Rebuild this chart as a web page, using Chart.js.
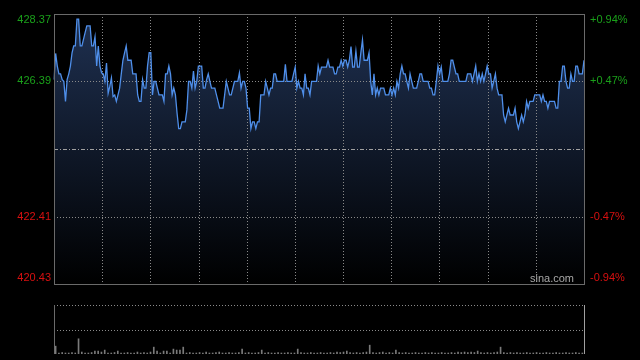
<!DOCTYPE html>
<html lang="zh-CN">
<head>
    <meta charset="UTF-8">
    <title>分时图</title>
    <script src="https://cdn.jsdelivr.net/npm/chart.js"></script>
    <style>
        body { margin: 0; background: #000; }
        .wrap { position: relative; width: 640px; height: 360px; background: #000; overflow: hidden; }
        #priceChart { position: absolute; left: 0; top: 0; }
        #volChart { position: absolute; left: 0; top: 290px; }
    </style>
</head>
<body>
<div class="wrap">
    <canvas id="priceChart" width="640" height="290"></canvas>
    <canvas id="volChart" width="640" height="70"></canvas>
</div>
<script>
    // price range and previous close
    const prevClose = 424.40;
    const yMin = 420.43;
    const yMax = 428.37;

    // axis labels
    const leftTicks = [428.37, 426.39, 422.41, 420.43];
    const rightTicks = ['+0.94%', '+0.47%', '-0.47%', '-0.94%'];

    // intraday prices
    const prices = [
        426.44, 427.21, 426.84, 426.61, 426.61, 426.44, 426.39, 425.80, 426.44, 426.61,
        426.84, 427.23, 427.43, 427.43, 428.22, 428.22, 427.43, 427.43, 427.63, 427.83,
        428.02, 428.02, 428.02, 427.43, 427.43, 427.70, 426.84, 427.43, 426.84, 426.64,
        426.61, 426.39, 426.93, 426.04, 426.24, 426.49, 425.94, 425.99, 425.80, 425.99,
        426.19, 426.61, 427.01, 427.23, 427.43, 427.01, 427.01, 427.01, 426.61, 426.61,
        426.61, 425.99, 425.80, 425.80, 426.44, 426.19, 426.19, 426.84, 427.23, 427.23,
        425.99, 426.39, 426.39, 426.19, 425.99, 425.99,
        425.99, 425.80, 426.61, 426.61, 426.84, 426.61, 425.99, 426.19, 425.99, 425.45,
        425.00, 425.00, 425.20, 425.20, 425.20, 425.55, 426.39, 426.39, 426.19, 426.69,
        426.19, 426.39, 426.84, 426.84, 426.84, 426.19, 426.19, 426.44, 426.61, 426.39,
        426.19, 426.19, 426.19, 425.99, 425.80, 425.60, 425.60, 425.60, 425.99, 426.39,
        426.19, 425.99, 425.99, 426.19, 426.39, 426.39, 426.39, 426.64, 426.19, 426.39,
        426.39, 426.19, 425.60, 425.60, 425.00, 425.20, 425.20, 425.00, 425.20, 425.20,
        425.99, 425.99, 425.99, 426.39,
        426.19, 425.99, 426.19, 426.19, 426.61, 426.61, 426.39, 426.39, 426.39, 426.39,
        426.39, 426.89, 426.39, 426.39, 426.39, 426.39, 426.61, 426.81, 426.19, 426.39,
        426.19, 426.19, 425.99, 426.61, 426.19, 426.19, 425.99, 426.39, 426.39, 426.39,
        426.39, 426.84, 426.61, 426.81, 426.81, 426.81, 426.81, 427.01, 426.81, 426.81,
        426.81, 426.61, 426.61, 426.81, 426.81, 427.01, 426.84, 427.01, 427.01, 426.81,
        427.01, 427.41, 426.81, 426.81, 427.28, 426.81, 426.81, 427.23, 427.61, 427.01,
        427.01, 427.01, 427.23, 426.39, 425.99,
        426.61, 425.99, 426.19, 425.99, 426.19, 426.19, 426.19, 425.99, 425.99, 425.99,
        426.19, 425.99, 426.19, 425.99, 426.39, 426.19, 426.61, 426.84, 426.61, 426.61,
        426.39, 426.19, 426.61, 426.39, 426.19, 426.19, 426.19, 426.39, 426.61, 426.61,
        426.39, 426.39, 426.39, 426.39, 426.19, 426.19, 425.99, 425.99, 426.39, 426.84,
        426.61, 426.81, 426.39, 426.39, 426.39, 426.39, 426.61, 427.01, 427.01, 426.81,
        426.61, 426.61, 426.39, 426.39, 426.39, 426.39, 426.39, 426.61, 426.61, 426.61,
        426.39, 426.61, 426.84, 426.39,
        426.61, 426.39, 426.61, 426.39, 426.61, 426.84, 426.61, 426.61, 426.19, 426.39,
        426.61, 426.19, 425.99, 425.99, 425.99, 425.40, 425.20, 425.40, 425.60, 425.40,
        425.40, 425.40, 425.60, 425.20, 425.00, 425.20, 425.40, 425.20, 425.40, 425.80,
        425.60, 425.80, 425.80, 425.80, 425.99, 425.99, 425.99, 425.99, 425.80, 425.99,
        425.80, 425.80, 425.60, 425.80, 425.80, 425.80, 425.80, 425.60, 425.60, 426.39,
        426.39, 426.84, 426.84, 426.39, 426.19, 426.19, 426.61, 426.39, 426.39, 426.84,
        426.84, 426.61, 426.61, 426.61, 427.01
    ];

    // volume bars (relative units)
    const volumes = [
        16, 2, 3, 2, 2, 3, 2, 31, 4, 2, 2, 3, 6, 6, 4, 8, 2, 2, 3, 6,
        2, 2, 3, 2, 2, 4, 2, 3, 2, 4, 14, 6, 2, 6, 6, 2, 10, 8, 8, 14,
        2, 3, 2, 2, 3, 2, 4, 2, 2, 3, 4, 2, 2, 3, 2, 2, 3, 10, 2, 3,
        2, 2, 3, 8, 2, 3, 2, 2, 3, 2, 2, 3, 2, 2, 10, 3, 2, 2, 3, 2,
        2, 3, 2, 2, 3, 2, 4, 3, 4, 6, 3, 2, 3, 2, 3, 4, 18, 3, 2, 3,
        4, 2, 3, 2, 8, 3, 2, 3, 2, 2, 3, 2, 2, 3, 2, 3, 2, 2, 3, 2,
        2, 3, 2, 4, 3, 4, 3, 4, 3, 6, 3, 2, 3, 2, 3, 4, 14, 3, 2, 3,
        2, 3, 2, 2, 3, 2, 2, 3, 2, 2, 3, 2, 2, 3, 2, 2, 3, 2, 2, 3,
        2, 2
    ];

    const priceLabels = prices.map((_, i) => i);
    const volLabels = volumes.map((_, i) => i);

    const FONT = '11px Arial, "Liberation Sans", sans-serif';

    function dotted(ctx, x1, y1, x2, y2, color, dash) {
        ctx.save();
        ctx.strokeStyle = color;
        ctx.lineWidth = 1;
        ctx.setLineDash(dash || [1, 2]);
        ctx.beginPath();
        ctx.moveTo(x1, y1);
        ctx.lineTo(x2, y2);
        ctx.stroke();
        ctx.restore();
    }

    const priceFrame = {
        id: 'priceFrame',
        beforeDatasetDraw(chart) {
            const { ctx, chartArea: a, scales } = chart;
            // vertical grid, 11 columns
            for (let k = 1; k < 11; k++) {
                const x = Math.round(a.left + (a.right - a.left) * k / 11) + 0.5;
                dotted(ctx, x, a.top, x, a.bottom, '#8a8a8a');
            }
            [426.39, 422.41].forEach(v => {
                const y = Math.round(scales.y.getPixelForValue(v)) + 0.5;
                dotted(ctx, a.left, y, a.right, y, '#8a8a8a');
            });
            const yc = Math.round(scales.y.getPixelForValue(prevClose)) + 0.5;
            dotted(ctx, a.left, yc, a.right, yc, '#a0a0a0', [4, 2, 1, 2]);
        },
        afterDraw(chart) {
            const { ctx, chartArea: a, scales } = chart;
            ctx.save();
            ctx.strokeStyle = '#6a6a6a';
            ctx.lineWidth = 1;
            ctx.strokeRect(a.left + 0.5, a.top + 0.5, a.right - a.left, a.bottom - a.top);

            ctx.font = FONT;
            ctx.textBaseline = 'middle';
            leftTicks.forEach((v, i) => {
                let y = scales.y.getPixelForValue(v);
                if (i === 0) y += 6;
                if (i === leftTicks.length - 1) y -= 6;
                ctx.fillStyle = v > prevClose ? '#1aa01a' : '#d81010';
                ctx.textAlign = 'right';
                ctx.fillText(v.toFixed(2), a.left - 3, y);
                ctx.textAlign = 'left';
                ctx.fillText(rightTicks[i], a.right + 6, y);
            });

            ctx.fillStyle = '#a8a8a8';
            ctx.textAlign = 'right';
            ctx.fillText('sina.com', a.right - 10, a.bottom - 5);
            ctx.restore();
        }
    };

    const ctxPrice = document.getElementById('priceChart').getContext('2d');
    new Chart(ctxPrice, {
        type: 'line',
        data: {
            labels: priceLabels,
            datasets: [{
                data: prices,
                borderColor: '#4f8fea',
                borderWidth: 1.3,
                pointRadius: 0,
                tension: 0,
                fill: 'start',
                backgroundColor: (c) => {
                    const a = c.chart.chartArea;
                    if (!a) return 'rgba(0,0,0,0)';
                    const g = c.chart.ctx.createLinearGradient(0, a.top, 0, a.bottom);
                    g.addColorStop(0, '#1f3152');
                    g.addColorStop(1, '#000000');
                    return g;
                }
            }]
        },
        options: {
            responsive: false,
            animation: false,
            devicePixelRatio: 1,
            layout: { padding: { left: 54, right: 56, top: 14, bottom: 6 } },
            plugins: { legend: { display: false }, tooltip: { enabled: false } },
            scales: {
                x: { display: false },
                y: { display: false, min: yMin, max: yMax }
            }
        },
        plugins: [priceFrame]
    });

    const volFrame = {
        id: 'volFrame',
        beforeDatasetsDraw(chart) {
            const { ctx, chartArea: a } = chart;
            dotted(ctx, a.left, a.top + 0.5, a.right, a.top + 0.5, '#8a8a8a');
            const ym = Math.round((a.top + a.bottom) / 2) + 0.5;
            dotted(ctx, a.left, ym, a.right, ym, '#8a8a8a');
            ctx.save();
            ctx.lineWidth = 1;
            ctx.strokeStyle = '#6a6a6a';
            ctx.beginPath();
            ctx.moveTo(a.left + 0.5, a.top);
            ctx.lineTo(a.left + 0.5, a.bottom);
            ctx.stroke();
            ctx.strokeStyle = '#a0a0a0';
            ctx.beginPath();
            ctx.moveTo(a.right + 0.5, a.top);
            ctx.lineTo(a.right + 0.5, a.bottom);
            ctx.stroke();
            ctx.restore();
        }
    };

    const ctxVol = document.getElementById('volChart').getContext('2d');
    new Chart(ctxVol, {
        type: 'bar',
        data: {
            labels: volLabels,
            datasets: [{
                data: volumes,
                backgroundColor: '#7a7a7a',
                barThickness: 1
            }]
        },
        options: {
            responsive: false,
            animation: false,
            devicePixelRatio: 1,
            layout: { padding: { left: 54, right: 56, top: 15, bottom: 6 } },
            plugins: { legend: { display: false }, tooltip: { enabled: false } },
            scales: {
                x: { display: false },
                y: { display: false, min: 0, max: 100 }
            }
        },
        plugins: [volFrame]
    });
</script>
</body>
</html>
